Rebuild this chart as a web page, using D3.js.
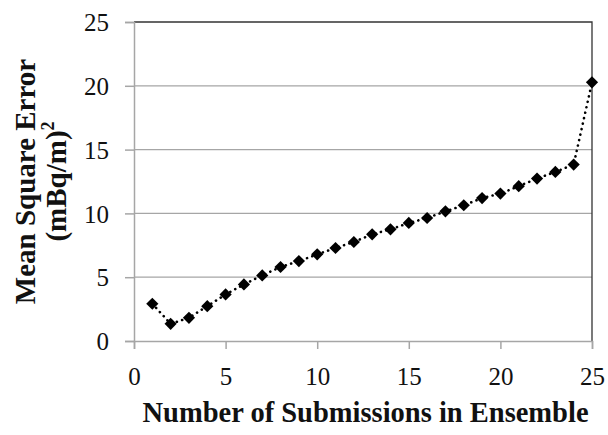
<!DOCTYPE html>
<html><head><meta charset="utf-8">
<script src="https://cdn.jsdelivr.net/npm/d3@7"></script>
<style>body{margin:0;background:#fff}svg{display:block}</style>
</head><body><div id="chart"></div>
<script>
const xValues = [1,2,3,4,5,6,7,8,9,10,11,12,13,14,15,16,17,18,19,20,21,22,23,24,25];
const mseValues = [2.92,1.35,1.82,2.73,3.65,4.43,5.14,5.8,6.26,6.79,7.29,7.76,8.36,8.75,9.25,9.64,10.16,10.64,11.2,11.55,12.13,12.73,13.25,13.83,20.27];
const xTicks = [0,5,10,15,20,25];
const yTicks = [0,5,10,15,20,25];

const W=608,H=435;
const m={left:134,right:16,top:22,bottom:94};
const svg=d3.select("#chart").append("svg").attr("width",W).attr("height",H);
const x=d3.scaleLinear().domain([0,25]).range([m.left,W-m.right]);
const y=d3.scaleLinear().domain([0,25]).range([H-m.bottom,m.top]);
const font="'Liberation Serif','Times New Roman',serif";

// gridlines
svg.append("g").selectAll("line").data(yTicks.filter(d=>d>0&&d<25)).join("line")
  .attr("x1",x(0)).attr("x2",x(25)).attr("y1",d=>y(d)).attr("y2",d=>y(d))
  .attr("stroke","#a6a6a6").attr("stroke-width",1.3);
// border top/right
svg.append("path").attr("d",`M${x(0)},${y(25)}H${x(25)}V${y(0)}`)
  .attr("fill","none").attr("stroke","#333").attr("stroke-width",1.3);

const xa=svg.append("g").attr("transform",`translate(0,${y(0)})`)
  .call(d3.axisBottom(x).tickValues(xTicks).tickSize(8).tickPadding(18));
const ya=svg.append("g").attr("transform",`translate(${x(0)},0)`)
  .call(d3.axisLeft(y).tickValues(yTicks).tickSize(9).tickPadding(16));
[xa,ya].forEach(a=>{
  a.select(".domain").attr("stroke","#a6a6a6").attr("stroke-width",1.5);
  a.selectAll(".tick line").attr("stroke","#a6a6a6").attr("stroke-width",1.5);
  a.selectAll(".tick text").attr("font-family",font).attr("font-size",25).attr("fill","#111");
});
ya.selectAll(".tick text").attr("dy","0.35em");

// line
const line=d3.line().x((d,i)=>x(xValues[i])).y(d=>y(d));
svg.append("path").datum(mseValues).attr("d",line).attr("fill","none")
  .attr("stroke","#000").attr("stroke-width",2.6).attr("stroke-linecap","round")
  .attr("stroke-dasharray","0.1,5.5");
// markers
svg.append("g").selectAll("path").data(mseValues).join("path")
  .attr("d",d3.symbol(d3.symbolDiamond2,95))
  .attr("transform",(d,i)=>`translate(${x(xValues[i])},${y(d)})`)
  .attr("fill","#000");

// axis titles
svg.append("text").attr("x",365.5).attr("y",421.5).attr("text-anchor","middle")
  .attr("font-family",font).attr("font-weight","bold").attr("font-size",28.5).attr("fill","#111")
  .text("Number of Submissions in Ensemble");
const yt=svg.append("g").attr("transform","translate(0,181.5) rotate(-90)");
yt.append("text").attr("x",0).attr("y",35).attr("text-anchor","middle")
  .attr("font-family",font).attr("font-weight","bold").attr("font-size",29).attr("fill","#111")
  .text("Mean Square Error");
const t2=yt.append("text").attr("x",0).attr("y",65.5).attr("text-anchor","middle")
  .attr("font-family",font).attr("font-weight","bold").attr("font-size",29).attr("fill","#111");
t2.append("tspan").text("(mBq/m)");
t2.append("tspan").attr("font-size",18).attr("dy",-12).text("2");
</script></body></html>
